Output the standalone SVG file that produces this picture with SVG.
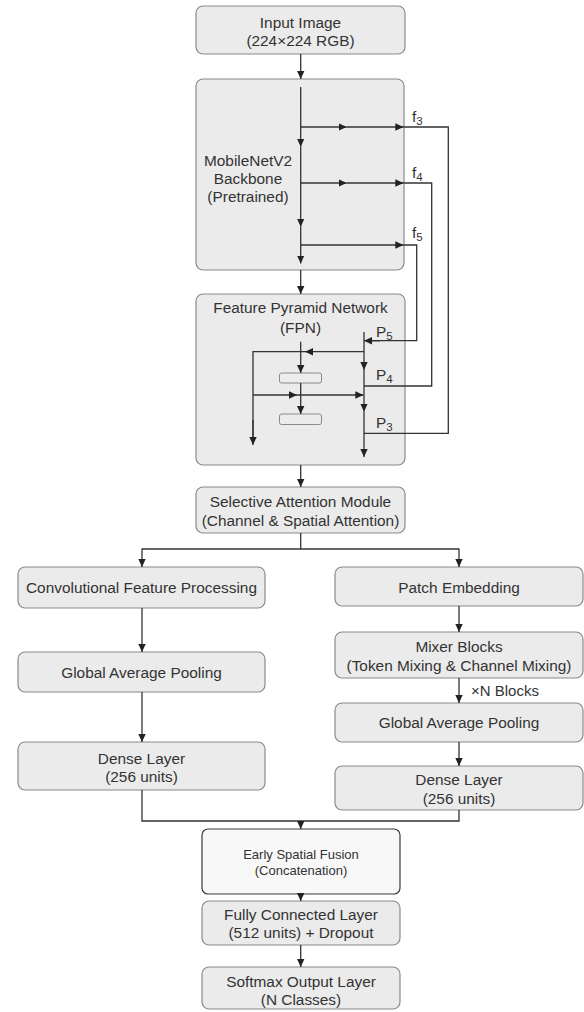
<svg xmlns="http://www.w3.org/2000/svg" width="584" height="1012" viewBox="0 0 584 1012">
<defs>
<marker id="ah" viewBox="0 0 8 8" refX="8" refY="4" markerWidth="8" markerHeight="8" markerUnits="userSpaceOnUse" orient="auto">
<path d="M0,0.3 L8,4 L0,7.7 z" fill="#222"/>
</marker>
<style>
.box{fill:#ebebeb;stroke:#8a8a8a;stroke-width:1.2}
.fus{fill:#f8f8f8;stroke:#3a3a3a;stroke-width:1.2}
.sm{fill:#ececec;stroke:#8a8a8a;stroke-width:1}
.t{font-family:"Liberation Sans",Arial,sans-serif;font-size:15.4px;fill:#333;text-anchor:middle}
.ts{font-family:"Liberation Sans",Arial,sans-serif;font-size:13px;fill:#333;text-anchor:middle}
.tl{font-family:"Liberation Sans",Arial,sans-serif;font-size:15.4px;fill:#333}
.sub{font-size:11.5px}
.c{fill:none;stroke:#333;stroke-width:1.3}
.a{fill:none;stroke:#333;stroke-width:1.3;marker-end:url(#ah)}
</style>
</defs>
<rect width="584" height="1012" fill="#ffffff"/>

<g id="input">
<rect class="box" x="196" y="6" width="209" height="48" rx="7"/>
<text class="t" x="300.5" y="27.5">Input Image</text>
<text class="t" x="300.5" y="46">(224×224 RGB)</text>
</g>

<g id="backbone">
<rect class="box" x="196" y="79" width="208" height="191" rx="7"/>
<text class="t" x="248" y="166">MobileNetV2</text>
<text class="t" x="248" y="184">Backbone</text>
<text class="t" x="248" y="202">(Pretrained)</text>
<text class="tl" x="412" y="122">f<tspan class="sub" dy="3">3</tspan></text>
<text class="tl" x="412" y="178">f<tspan class="sub" dy="3">4</tspan></text>
<text class="tl" x="412" y="238">f<tspan class="sub" dy="3">5</tspan></text>
</g>

<g id="fpn">
<rect class="box" x="196" y="294" width="209" height="171" rx="7"/>
<text class="t" x="300.5" y="313">Feature Pyramid Network</text>
<text class="t" x="300.5" y="333">(FPN)</text>
<rect class="sm" x="279.5" y="373" width="42" height="10" rx="2"/>
<rect class="sm" x="279.5" y="414" width="42" height="10.5" rx="2"/>
<text class="tl" x="376" y="337">P<tspan class="sub" dy="3">5</tspan></text>
<text class="tl" x="376" y="380">P<tspan class="sub" dy="3">4</tspan></text>
<text class="tl" x="376" y="428">P<tspan class="sub" dy="3">3</tspan></text>
</g>

<g id="attention">
<rect class="box" x="196" y="487" width="209" height="46" rx="7"/>
<text class="t" x="300.5" y="507">Selective Attention Module</text>
<text class="t" x="300.5" y="526">(Channel &amp; Spatial Attention)</text>
</g>

<g id="conv">
<rect class="box" x="18" y="567" width="247" height="41" rx="7"/>
<text class="t" x="141.5" y="593">Convolutional Feature Processing</text>
</g>
<g id="gap-left">
<rect class="box" x="18" y="652" width="247" height="40" rx="7"/>
<text class="t" x="141.5" y="677.5">Global Average Pooling</text>
</g>
<g id="dense-left">
<rect class="box" x="18" y="742" width="247" height="48" rx="7"/>
<text class="t" x="141.5" y="763.5">Dense Layer</text>
<text class="t" x="141.5" y="782">(256 units)</text>
</g>

<g id="patch">
<rect class="box" x="335" y="567" width="248" height="39" rx="7"/>
<text class="t" x="459" y="593">Patch Embedding</text>
</g>
<g id="mixer">
<rect class="box" x="335" y="632" width="248" height="46" rx="7"/>
<text class="t" x="459" y="651.5">Mixer Blocks</text>
<text class="t" x="459" y="670.5">(Token Mixing &amp; Channel Mixing)</text>
</g>
<g id="gap-right">
<rect class="box" x="335" y="703" width="248" height="39" rx="7"/>
<text class="t" x="459" y="728">Global Average Pooling</text>
</g>
<g id="dense-right">
<rect class="box" x="335" y="766" width="248" height="44" rx="7"/>
<text class="t" x="459" y="785">Dense Layer</text>
<text class="t" x="459" y="804">(256 units)</text>
</g>

<g id="fusion">
<rect class="fus" x="202" y="829" width="198" height="65" rx="6"/>
<text class="ts" x="301" y="858.5">Early Spatial Fusion</text>
<text class="ts" x="301" y="874.5">(Concatenation)</text>
</g>
<g id="fc">
<rect class="box" x="202" y="901" width="198" height="44" rx="7"/>
<text class="t" x="301" y="919.5">Fully Connected Layer</text>
<text class="t" x="301" y="938">(512 units) + Dropout</text>
</g>
<g id="softmax">
<rect class="box" x="202" y="967" width="198" height="42" rx="7"/>
<text class="t" x="301" y="987">Softmax Output Layer</text>
<text class="t" x="301" y="1004.5">(N Classes)</text>
</g>

<g id="connectors">
<path class="a" d="M300.7,54 V79"/>
<path class="a" d="M300.7,87 V146.7"/>
<path class="a" d="M300.7,146.7 V226.7"/>
<path class="a" d="M300.7,226.7 V263.5"/>
<path class="a" d="M300.7,127 H346.7"/>
<path class="a" d="M346.7,127 H403.3"/>
<path class="c" d="M403.3,127 H448.3 V433.3 H364"/>
<path class="a" d="M300.7,183 H346.7"/>
<path class="a" d="M346.7,183 H403.3"/>
<path class="c" d="M403.3,183 H431.7 V386 H364"/>
<path class="a" d="M300.7,245 H403.3"/>
<path class="c" d="M403.3,245 H416.7 V340.7 H371"/>
<path class="a" d="M380,340.7 H364"/>
<path class="a" d="M300.7,270 V294"/>
<path class="a" d="M364,332 V370"/>
<path class="a" d="M364,370 V411.7"/>
<path class="a" d="M364,411.7 V457"/>
<path class="a" d="M364,351.7 H305"/>
<path class="c" d="M305,351.7 H253 V440"/>
<path class="a" d="M253,420 V445"/>
<path class="a" d="M300.7,341.7 V373"/>
<path class="a" d="M300.7,383 V414"/>
<path class="a" d="M253,395 H297"/>
<path class="a" d="M297,395 H363.3"/>
<path class="a" d="M300.7,465 V487"/>
<path class="c" d="M300.7,533 V549"/>
<path class="c" d="M142,549 H459"/>
<path class="a" d="M142,548.4 V567"/>
<path class="a" d="M459,548.4 V567"/>
<path class="a" d="M142,608 V652"/>
<path class="a" d="M142,692 V742"/>
<path class="a" d="M459,606 V632"/>
<path class="a" d="M459,678 V703"/>
<text class="tl" x="471" y="695.5" style="font-size:15px">×N Blocks</text>
<path class="a" d="M459,742 V766"/>
<path class="c" d="M142,790 V821 H459 V810"/>
<path class="a" d="M300.7,821 V829"/>
<path class="a" d="M300.7,894 V901"/>
<path class="a" d="M300.7,945 V967"/>
</g>
</svg>
